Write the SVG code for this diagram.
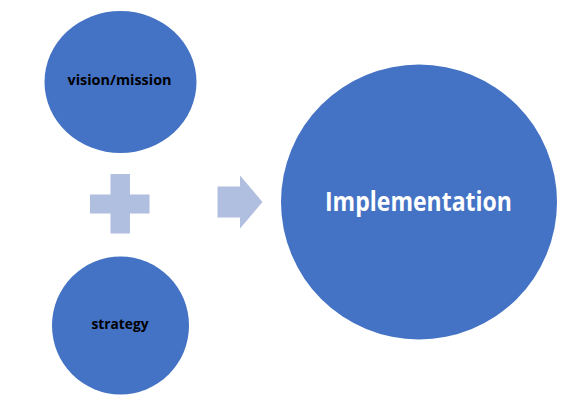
<svg xmlns="http://www.w3.org/2000/svg" width="564" height="410" viewBox="0 0 564 410">
<style>
.node{fill:#4472C4}
.sym{fill:#B0BEE0}
.lbl{font-family:"Open Sans","Noto Sans","Liberation Sans",sans-serif;font-weight:bold;text-anchor:middle}
</style>
<rect width="564" height="410" fill="#fff"/>
<g id="vision-mission">
<ellipse class="node" cx="120.5" cy="82" rx="76" ry="71"/>
<text class="lbl" x="119.5" y="85" font-size="14" fill="#000" textLength="104" lengthAdjust="spacingAndGlyphs">vision/mission</text>
</g>
<g id="strategy">
<ellipse class="node" cx="120.5" cy="325.5" rx="68.5" ry="69"/>
<text class="lbl" x="120" y="329" font-size="14" fill="#000" textLength="57" lengthAdjust="spacingAndGlyphs">strategy</text>
</g>
<g id="implementation">
<ellipse class="node" cx="419" cy="202" rx="138" ry="137.5"/>
<text class="lbl" x="418.5" y="210.5" font-size="26.5" fill="#fff" textLength="187" lengthAdjust="spacingAndGlyphs">Implementation</text>
</g>
<g id="connectors">
<path class="sym" d="M110.5,174 H130 V194.5 H149.5 V213.5 H130 V233.5 H110.5 V213.5 H90 V194.5 H110.5 Z"/>
<path class="sym" d="M217.5,186.5 H240 V175.5 L262.5,202 L240,228.5 V217.5 H217.5 Z"/>
</g>
</svg>
